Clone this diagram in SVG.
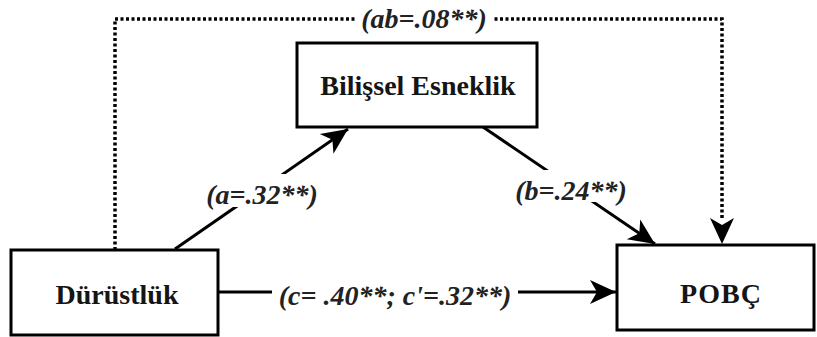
<svg xmlns="http://www.w3.org/2000/svg" width="817" height="337" viewBox="0 0 817 337">
<style>
.box{fill:#fff;stroke:#000;stroke-width:3}
.nt{font-family:"Liberation Serif","Times New Roman",serif;font-weight:bold;font-size:28px;fill:#151515;text-anchor:middle}
.lt{font-family:"Liberation Serif","Times New Roman",serif;font-weight:bold;font-style:italic;font-size:28px;fill:#222;text-anchor:middle}
.ln{fill:none;stroke:#000;stroke-width:3}
.dot{fill:none;stroke:#000;stroke-width:3.5;stroke-dasharray:3 2.5}
.bg{fill:#fff}
</style>
<defs>
<marker id="ah" markerUnits="userSpaceOnUse" markerWidth="30" markerHeight="30" viewBox="-28 -15 30 30" refX="0" refY="0" orient="auto">
<path d="M0,0 L-26,-12 L-19,0 L-26,12 Z" fill="#000"/>
</marker>
</defs>
<rect width="817" height="337" fill="#fff"/>
<g id="connectors">
<line class="ln" x1="175" y1="249" x2="348" y2="129" marker-end="url(#ah)"/>
<line class="ln" x1="483" y1="127" x2="655" y2="244" marker-end="url(#ah)"/>
<line class="ln" x1="218" y1="292" x2="616" y2="292" marker-end="url(#ah)"/>
<path class="dot" d="M115,250 V19 H722 V218"/>
<line x1="722" y1="216" x2="722" y2="244" stroke="none" marker-end="url(#ah)"/>
</g>
<g id="label-ab">
<rect class="bg" x="356" y="3" width="136" height="32"/>
<text class="lt" x="424" y="28">(ab=.08**)</text>
</g>
<g id="label-a">
<rect class="bg" x="198" y="174" width="128" height="33"/>
<text class="lt" x="262" y="204">(a=.32**)</text>
</g>
<g id="label-b">
<rect class="bg" x="508" y="170" width="126" height="32"/>
<text class="lt" x="571" y="200">(b=.24**)</text>
</g>
<g id="label-c">
<rect class="bg" x="272" y="280" width="246" height="30"/>
<text class="lt" x="395" y="305">(c= .40**; c'=.32**)</text>
</g>
<g id="node-bilissel">
<rect class="box" x="297" y="43" width="240" height="84"/>
<text class="nt" x="418" y="95">Bilişsel Esneklik</text>
</g>
<g id="node-durustluk">
<rect class="box" x="11" y="250" width="207" height="85"/>
<text class="nt" x="117" y="304">Dürüstlük</text>
</g>
<g id="node-pobc">
<rect class="box" x="617" y="245" width="197" height="85"/>
<text class="nt" x="721" y="303" letter-spacing="1">POBÇ</text>
</g>
</svg>
